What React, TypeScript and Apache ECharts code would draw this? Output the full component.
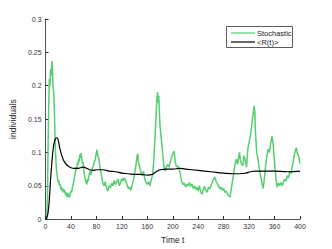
import React, { useEffect, useRef } from "react";
import * as echarts from "echarts";

const xTicks = [0, 40, 80, 120, 160, 200, 240, 280, 320, 360, 400];
const yTicks = [0, 0.05, 0.1, 0.15, 0.2, 0.25, 0.3];
const legendNames = ["Stochastic", "<R(t)>"];

const stochT = [0,2,3,4,5,6,7,8,9,10,11,12,13,14,15,16,17,18,19,20,21,22,23,24,25,26,27,28,29,30,31,32,33,34,35,36,37,38,39,40,41,42,43,44,45,46,47,48,49,50,51,52,53,54,55,56,57,58,59,60,61,62,63,64,65,66,67,68,69,70,71,72,73,74,75,76,77,78,79,80,81,82,83,84,85,86,87,88,89,90,91,92,93,94,95,96,97,98,99,100,102,104,106,108,110,112,114,116,118,120,122,124,126,128,130,132,134,136,138,140,142,144,145,146,148,150,152,154,156,158,160,162,164,166,168,170,172,174,175,176,177,178,179,180,182,184,186,188,190,192,194,196,198,200,202,203,204,206,208,210,212,214,216,218,220,222,224,226,228,230,232,234,236,238,240,242,244,246,248,250,252,254,256,258,260,262,264,266,268,270,272,274,276,278,280,282,284,286,288,290,292,294,296,298,300,302,304,305,306,308,310,312,314,316,318,320,322,324,326,328,329,330,332,334,336,338,340,342,344,346,348,350,352,354,356,358,360,362,364,366,368,370,372,374,376,378,380,382,384,386,388,390,392,394,396,398,400];
const stochV = [0,0.002,0.03,0.11,0.17,0.21,0.2,0.225,0.215,0.237,0.22,0.195,0.19,0.16,0.12,0.095,0.075,0.068,0.06,0.055,0.058,0.05,0.053,0.045,0.048,0.042,0.046,0.04,0.044,0.043,0.038,0.036,0.04,0.033,0.037,0.038,0.033,0.034,0.039,0.042,0.04,0.047,0.05,0.055,0.06,0.066,0.07,0.078,0.074,0.085,0.082,0.09,0.086,0.097,0.092,0.099,0.09,0.083,0.086,0.075,0.068,0.062,0.058,0.054,0.052,0.06,0.057,0.064,0.068,0.072,0.066,0.069,0.074,0.078,0.08,0.083,0.087,0.088,0.095,0.1,0.104,0.095,0.092,0.09,0.082,0.075,0.07,0.065,0.06,0.055,0.052,0.05,0.054,0.056,0.05,0.047,0.044,0.042,0.046,0.05,0.047,0.054,0.05,0.058,0.052,0.056,0.06,0.05,0.055,0.061,0.057,0.062,0.058,0.052,0.046,0.048,0.043,0.05,0.058,0.068,0.08,0.095,0.098,0.085,0.078,0.07,0.065,0.072,0.06,0.055,0.052,0.056,0.05,0.058,0.065,0.085,0.12,0.16,0.178,0.19,0.175,0.185,0.16,0.14,0.12,0.1,0.08,0.072,0.078,0.082,0.078,0.085,0.092,0.098,0.102,0.094,0.085,0.078,0.08,0.075,0.068,0.056,0.052,0.054,0.048,0.052,0.05,0.055,0.049,0.053,0.046,0.05,0.044,0.048,0.042,0.05,0.041,0.037,0.045,0.049,0.043,0.04,0.048,0.045,0.05,0.055,0.06,0.063,0.057,0.053,0.05,0.045,0.048,0.043,0.046,0.04,0.042,0.038,0.035,0.033,0.045,0.058,0.07,0.083,0.09,0.082,0.096,0.1,0.09,0.083,0.08,0.095,0.088,0.078,0.105,0.115,0.125,0.14,0.155,0.17,0.16,0.13,0.1,0.09,0.075,0.065,0.055,0.046,0.06,0.08,0.095,0.105,0.1,0.115,0.124,0.11,0.085,0.062,0.048,0.054,0.05,0.055,0.05,0.056,0.06,0.057,0.065,0.062,0.072,0.068,0.08,0.09,0.1,0.107,0.098,0.095,0.083];

const meanT = [0,2,4,6,8,10,12,14,16,18,20,22,25,28,31,35,40,45,50,55,60,65,70,75,80,90,100,110,120,130,140,150,160,168,172,176,180,190,200,210,220,240,260,280,295,305,315,322,330,340,360,380,400];
const meanV = [0,0.002,0.01,0.03,0.06,0.085,0.105,0.116,0.121,0.122,0.118,0.108,0.097,0.089,0.084,0.08,0.077,0.076,0.076,0.077,0.078,0.076,0.074,0.073,0.074,0.074,0.072,0.071,0.069,0.068,0.067,0.067,0.066,0.067,0.07,0.072,0.074,0.075,0.075,0.076,0.075,0.073,0.071,0.069,0.068,0.068,0.069,0.071,0.072,0.072,0.072,0.071,0.072];

const GREEN = "#55cf6f";

export default function App() {
  const ref = useRef<HTMLDivElement>(null);
  useEffect(() => {
    if (!ref.current) return;
    const chart = echarts.init(ref.current, undefined, { renderer: "svg" });
    const font = "Liberation Sans, Arial, sans-serif";
    chart.setOption({
      animation: false,
      textStyle: { fontFamily: font },
      grid: { left: 43, right: 32, top: 19, bottom: 27, containLabel: false },
      graphic: [
        {
          type: "rect",
          shape: { x: 226.5, y: 26.5, width: 66, height: 21 },
          style: { fill: "#fff", stroke: "#333", lineWidth: 0.8 },
          z: 100,
        },
        {
          type: "line",
          shape: { x1: 231, y1: 33, x2: 255, y2: 33 },
          style: { stroke: GREEN, lineWidth: 1.2 },
          z: 101,
        },
        {
          type: "line",
          shape: { x1: 231, y1: 42, x2: 255, y2: 42 },
          style: { stroke: "#000", lineWidth: 1.2 },
          z: 101,
        },
        {
          type: "text",
          x: 257,
          y: 33,
          style: { text: legendNames[0], fontSize: 7.5, fill: "#222", fontFamily: font, verticalAlign: "middle" },
          z: 101,
        },
        {
          type: "text",
          x: 257,
          y: 42,
          style: { text: legendNames[1], fontSize: 7.5, fill: "#222", fontFamily: font, verticalAlign: "middle" },
          z: 101,
        },
      ],
      xAxis: {
        type: "value",
        min: 0,
        max: 400,
        interval: 40,
        name: "Time t",
        nameLocation: "middle",
        nameGap: 15,
        nameTextStyle: { fontSize: 8.5, color: "#262626", fontFamily: font },
        axisLine: { lineStyle: { color: "#262626", width: 0.8 } },
        axisTick: { inside: true, length: 3, lineStyle: { color: "#262626" } },
        axisLabel: { fontSize: 7, color: "#333", margin: 4, fontFamily: font },
        splitLine: { show: false },
      },
      yAxis: {
        type: "value",
        min: 0,
        max: 0.3,
        interval: 0.05,
        name: "individuals",
        nameLocation: "middle",
        nameGap: 21,
        nameTextStyle: { fontSize: 8.5, color: "#262626", fontFamily: font },
        axisLine: { show: true, lineStyle: { color: "#262626", width: 0.8 } },
        axisTick: { show: true, inside: true, length: 3, lineStyle: { color: "#262626" } },
        axisLabel: {
          fontSize: 7,
          color: "#333",
          margin: 4,
          fontFamily: font,
          formatter: (v: number) => String(parseFloat(v.toFixed(2))),
        },
        splitLine: { show: false },
      },
      series: [
        {
          name: "Stochastic",
          type: "line",
          data: stochT.map((t, i) => [t, stochV[i]]),
          symbol: "none",
          lineStyle: { color: GREEN, width: 1.5 },
          itemStyle: { color: GREEN },
        },
        {
          name: "<R(t)>",
          type: "line",
          data: meanT.map((t, i) => [t, meanV[i]]),
          symbol: "none",
          smooth: true,
          lineStyle: { color: "#000", width: 1.2 },
          itemStyle: { color: "#000" },
        },
      ],
    });
    return () => chart.dispose();
  }, []);
  return (
    <div
      ref={ref}
      style={{ position: "fixed", left: 0, top: 0, width: 332, height: 249, background: "#fff" }}
    />
  );
}
